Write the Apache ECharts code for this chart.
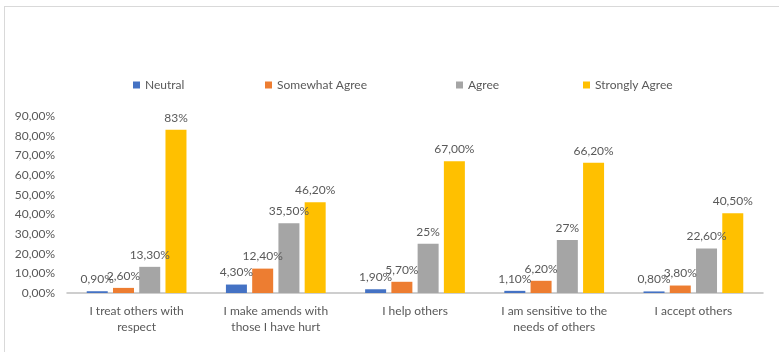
<!DOCTYPE html>
<html><head><meta charset="utf-8">
<script src="https://cdn.jsdelivr.net/npm/echarts@6/dist/echarts.min.js"></script>
<style>
html,body{margin:0;padding:0;background:#fff;}
#c{position:absolute;left:0;top:0;width:779px;height:352px;}
#frame{position:absolute;left:4px;top:6px;width:775px;height:346px;border-top:1px solid #d9d9d9;border-left:1px solid #d9d9d9;box-sizing:border-box;pointer-events:none;}
</style></head>
<body>
<div id="c"></div><div id="frame"></div>
<script>
const categories = ["I treat others with\nrespect", "I make amends with\nthose I have hurt", "I help others", "I am sensitive to the\nneeds of others", "I accept others"];
const seriesNames = ["Neutral", "Somewhat Agree", "Agree", "Strongly Agree"];
const neutral = [0.9, 4.3, 1.9, 1.1, 0.8];
const somewhatAgree = [2.6, 12.4, 5.7, 6.2, 3.8];
const agree = [13.3, 35.5, 25, 27, 22.6];
const stronglyAgree = [83, 46.2, 67, 66.2, 40.5];
const neutralLabels = ["0,90%", "4,30%", "1,90%", "1,10%", "0,80%"];
const somewhatLabels = ["2,60%", "12,40%", "5,70%", "6,20%", "3,80%"];
const agreeLabels = ["13,30%", "35,50%", "25%", "27%", "22,60%"];
const stronglyLabels = ["83%", "46,20%", "67,00%", "66,20%", "40,50%"];
const yTicks = [0, 10, 20, 30, 40, 50, 60, 70, 80, 90];

const colors = ["#4472C4", "#ED7D31", "#A5A5A5", "#FFC000"];
const values = [neutral, somewhatAgree, agree, stronglyAgree];
const labels = [neutralLabels, somewhatLabels, agreeLabels, stronglyLabels];
const font = "Lato";
const txt = "#595959";
const legendLeft = [128, 260, 451, 578];

const chart = echarts.init(document.getElementById('c'));
chart.setOption({
  animation: false,
  textStyle: {fontFamily: font},
  legend: seriesNames.map((n, i) => ({
    data: [n], left: legendLeft[i], top: 74, itemWidth: 7, itemHeight: 7, icon: 'rect',
    textStyle: {color: txt, fontSize: 12, fontFamily: font}, itemGap: 4
  })),
  grid: {left: 67, right: 16, top: 116, bottom: 59},
  xAxis: {
    type: 'category', data: categories,
    axisLine: {lineStyle: {color: '#BFBFBF', width: 1.5}},
    axisTick: {show: false},
    axisLabel: {color: txt, fontSize: 12, fontFamily: font, lineHeight: 16, margin: 10, interval: 0}
  },
  yAxis: {
    type: 'value', min: yTicks[0], max: yTicks[yTicks.length - 1], interval: 10,
    axisLine: {show: false}, axisTick: {show: false}, splitLine: {show: false},
    axisLabel: {color: txt, fontSize: 12, fontFamily: font, margin: 12,
      formatter: v => v.toFixed(2).replace('.', ',') + '%'}
  },
  series: seriesNames.map((n, i) => ({
    name: n, type: 'bar', data: values[i],
    barWidth: 21, barGap: '25%', barCategoryGap: '26%',
    itemStyle: {color: colors[i]},
    label: {show: true, position: 'top', color: txt, fontSize: 12, fontFamily: font,
      distance: 6, formatter: p => labels[i][p.dataIndex]}
  }))
});
</script>
</body></html>
